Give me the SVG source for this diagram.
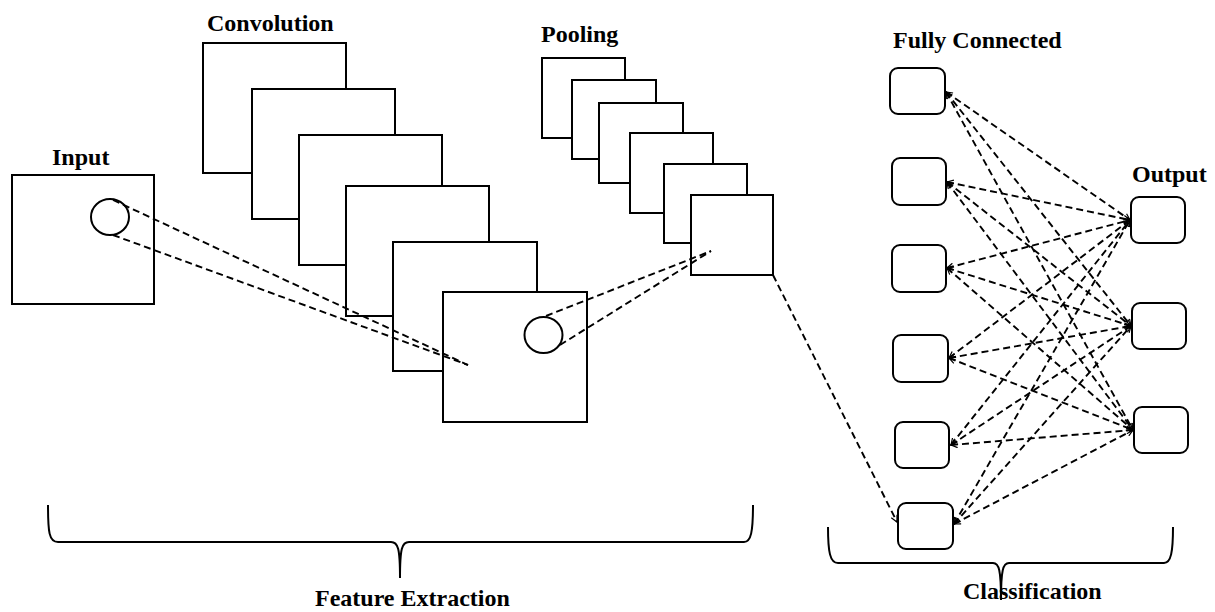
<svg xmlns="http://www.w3.org/2000/svg" width="1215" height="612" viewBox="0 0 1215 612">
<style>
.lbl{font-family:"Liberation Serif","Times New Roman",serif;font-weight:bold;font-size:24px;fill:#000}
.map{fill:#fff;stroke:#000;stroke-width:2}
.ring{fill:none;stroke:#000;stroke-width:2}
.unit{fill:#fff;stroke:#000;stroke-width:2}
.dash{fill:none;stroke:#000;stroke-width:1.9;stroke-dasharray:7 4}
.brace{fill:none;stroke:#000;stroke-width:2}
</style>
<defs>
<marker id="ah" viewBox="0 0 10 10" refX="9" refY="5" markerWidth="8" markerHeight="8" markerUnits="userSpaceOnUse" orient="auto-start-reverse">
<path d="M1,1 L9,5 L1,9" fill="none" stroke="#000" stroke-width="1.5"/>
</marker>
</defs>
<rect width="1215" height="612" fill="#fff"/>

<g id="input">
<rect class="map" x="12" y="175" width="142" height="129"/>
<ellipse class="ring" cx="110" cy="217" rx="19" ry="18"/>
<text class="lbl" x="52" y="165">Input</text>
</g>

<g id="convolution">
<text class="lbl" x="207" y="31">Convolution</text>
<rect class="map" x="203" y="43" width="143" height="130"/>
<rect class="map" x="252" y="89" width="143" height="130"/>
<rect class="map" x="299" y="135" width="143" height="130"/>
<rect class="map" x="346" y="186" width="143" height="130"/>
<rect class="map" x="393" y="242" width="144" height="129"/>
<rect class="map" x="443" y="292" width="144" height="130"/>
<ellipse class="ring" cx="543.5" cy="335" rx="19" ry="18"/>
</g>

<g id="pooling">
<text class="lbl" x="541" y="42">Pooling</text>
<rect class="map" x="542" y="58" width="83" height="80"/>
<rect class="map" x="572" y="80" width="84" height="79"/>
<rect class="map" x="599" y="103" width="84" height="80"/>
<rect class="map" x="630" y="133" width="83" height="80"/>
<rect class="map" x="664" y="164" width="83" height="79"/>
<rect class="map" x="691" y="195" width="82" height="80"/>
</g>

<g id="fully-connected">
<text class="lbl" x="893" y="48">Fully Connected</text>
<rect class="unit" x="890" y="68" width="55" height="46" rx="8"/>
<rect class="unit" x="892" y="158" width="54" height="47" rx="8"/>
<rect class="unit" x="892" y="245" width="54" height="47" rx="8"/>
<rect class="unit" x="893" y="335" width="55" height="47" rx="8"/>
<rect class="unit" x="895" y="422" width="54" height="46" rx="8"/>
<rect class="unit" x="898" y="503" width="55" height="46" rx="8"/>
</g>

<g id="output">
<text class="lbl" x="1132" y="182">Output</text>
<rect class="unit" x="1131" y="197" width="54" height="46" rx="8"/>
<rect class="unit" x="1132" y="303" width="54" height="46" rx="8"/>
<rect class="unit" x="1134" y="407" width="54" height="46" rx="8"/>
</g>

<g id="connectors">
<path class="dash" d="M113,200 L468,365"/>
<path class="dash" d="M113,235 L468,365"/>
<path class="dash" d="M546,316 L711,251"/>
<path class="dash" d="M560,345 L711,251"/>
<path class="dash" d="M773,275 L897,522" marker-end="url(#ah)"/>
<g marker-start="url(#ah)" marker-end="url(#ah)">
<path class="dash" d="M946,92 L1130,220"/>
<path class="dash" d="M946,92 L1131,326"/>
<path class="dash" d="M946,92 L1133,430"/>
<path class="dash" d="M947,182 L1130,220"/>
<path class="dash" d="M947,182 L1131,326"/>
<path class="dash" d="M947,182 L1133,430"/>
<path class="dash" d="M947,268 L1130,220"/>
<path class="dash" d="M947,268 L1131,326"/>
<path class="dash" d="M947,268 L1133,430"/>
<path class="dash" d="M949,358 L1130,220"/>
<path class="dash" d="M949,358 L1131,326"/>
<path class="dash" d="M949,358 L1133,430"/>
<path class="dash" d="M951,445 L1130,220"/>
<path class="dash" d="M951,445 L1131,326"/>
<path class="dash" d="M951,445 L1133,430"/>
<path class="dash" d="M954,524 L1130,220"/>
<path class="dash" d="M954,524 L1131,326"/>
<path class="dash" d="M954,524 L1133,430"/>
</g>
</g>

<g id="feature-extraction">
<path class="brace" d="M48,505 C48,532 49,542 58,542 L391,542 C398,542 400,548 400,578 C400,548 402,542 409,542 L744,542 C751,542 753,532 753,505"/>
<text class="lbl" x="315" y="606">Feature Extraction</text>
</g>

<g id="classification">
<path class="brace" d="M828,527 C828,552 830,563 838,563 L993,563 C999,563 1001,570 1001,600 C1001,570 1003,563 1009,563 L1164,563 C1171,563 1173,552 1173,527"/>
<text class="lbl" x="963" y="599">Classification</text>
</g>
</svg>
